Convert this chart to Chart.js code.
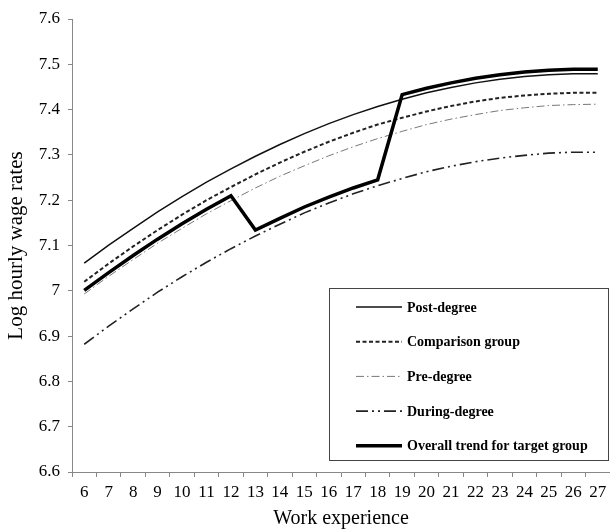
<!DOCTYPE html>
<html>
<head>
<meta charset="utf-8">
<script src="https://cdn.jsdelivr.net/npm/chart.js"></script>
<style>
  html, body { margin: 0; padding: 0; background: #fff; }
  #wrap { width: 610px; height: 531px; }
</style>
</head>
<body>
<div id="wrap"><canvas id="chart" width="610" height="531"></canvas></div>
<script>
// Work experience (years)
const experience = [6, 7, 8, 9, 10, 11, 12, 13, 14, 15, 16, 17, 18, 19, 20, 21, 22, 23, 24, 25, 26, 27];

// Log hourly wage rates
const postDegree = [7.061, 7.101, 7.138, 7.174, 7.208, 7.240, 7.269, 7.297, 7.323, 7.347, 7.369,
                    7.389, 7.407, 7.423, 7.437, 7.449, 7.459, 7.467, 7.473, 7.477, 7.479, 7.479];
const comparisonGroup = [7.020, 7.060, 7.098, 7.134, 7.168, 7.200, 7.229, 7.257, 7.283, 7.307, 7.329,
                         7.349, 7.367, 7.382, 7.396, 7.408, 7.418, 7.426, 7.431, 7.435, 7.437, 7.437];
const preDegree = [6.993, 7.032, 7.069, 7.105, 7.138, 7.170, 7.199, 7.227, 7.253, 7.276, 7.298,
                   7.318, 7.336, 7.352, 7.367, 7.379, 7.389, 7.398, 7.404, 7.409, 7.411, 7.412];
const duringDegree = [6.882, 6.922, 6.960, 6.997, 7.031, 7.063, 7.093, 7.121, 7.147, 7.172, 7.194,
                      7.214, 7.232, 7.248, 7.263, 7.275, 7.285, 7.293, 7.299, 7.304, 7.306, 7.306];
const overallTrend = [7.001, 7.040, 7.078, 7.114, 7.148, 7.180, 7.210, 7.134, 7.160, 7.185, 7.207,
                      7.227, 7.245, 7.433, 7.447, 7.459, 7.469, 7.477, 7.483, 7.487, 7.489, 7.489];

const yMin = 6.6, yMax = 7.6, yStep = 0.1;

const serif = '"Liberation Serif", "Times New Roman", serif';

// boxed legend in the lower right, drawn from the datasets
const boxLegend = {
    id: 'boxLegend',
    afterDraw(chart) {
        const ctx = chart.ctx;
        ctx.save();
        ctx.strokeStyle = '#444';
        ctx.lineWidth = 1;
        ctx.setLineDash([]);
        ctx.strokeRect(329.5, 288.5, 279, 172);
        chart.data.datasets.forEach((ds, i) => {
            const y = 307 + i * 34.7;
            ctx.beginPath();
            ctx.strokeStyle = ds.borderColor;
            ctx.lineWidth = ds.borderWidth;
            ctx.setLineDash(ds.borderDash || []);
            ctx.moveTo(356, y);
            ctx.lineTo(402, y);
            ctx.stroke();
            ctx.setLineDash([]);
            ctx.fillStyle = '#000';
            ctx.font = 'bold 14px ' + serif;
            ctx.textBaseline = 'middle';
            ctx.textAlign = 'left';
            ctx.fillText(ds.label, 407, y + 1);
        });
        ctx.restore();
    }
};

new Chart(document.getElementById('chart').getContext('2d'), {
    type: 'line',
    data: {
        labels: experience,
        datasets: [
            { label: 'Post-degree', data: postDegree, borderColor: '#111', borderWidth: 1.5, borderDash: [], order: 1 },
            { label: 'Comparison group', data: comparisonGroup, borderColor: '#222', borderWidth: 2, borderDash: [4, 2.5], order: 1 },
            { label: 'Pre-degree', data: preDegree, borderColor: '#777', borderWidth: 1, borderDash: [8, 3, 1.5, 3], order: 1 },
            { label: 'During-degree', data: duringDegree, borderColor: '#222', borderWidth: 1.6, borderDash: [12, 4, 2, 4, 2, 4], order: 1 },
            { label: 'Overall trend for target group', data: overallTrend, borderColor: '#000', borderWidth: 3.5, borderDash: [], order: 0 }
        ]
    },
    options: {
        responsive: false,
        animation: false,
        elements: {
            point: { radius: 0, hoverRadius: 0 },
            line: { tension: 0, fill: false, borderCapStyle: 'butt', borderJoinStyle: 'miter' }
        },
        layout: { padding: { top: 19, right: 0, left: 0, bottom: 0 } },
        plugins: {
            legend: { display: false },
            tooltip: { enabled: false }
        },
        scales: {
            x: {
                type: 'category',
                offset: true,
                afterFit: s => { s.height = 59; s.paddingRight = 0; s.paddingLeft = 0; },
                grid: { offset: true, drawOnChartArea: false, drawTicks: true, tickLength: 5, color: '#888' },
                border: { display: true, color: '#888', width: 1 },
                ticks: {
                    color: '#000', padding: 5, maxRotation: 0, autoSkip: false,
                    font: { family: serif, size: 17 }
                },
                title: {
                    display: true, text: 'Work experience', color: '#000',
                    font: { family: serif, size: 20 }, padding: { top: 0, bottom: 0 }
                }
            },
            y: {
                min: yMin,
                max: yMax,
                afterFit: s => { s.width = 72; },
                grid: { drawOnChartArea: false, drawTicks: true, tickLength: 4, color: '#888' },
                border: { display: true, color: '#888', width: 1 },
                ticks: {
                    stepSize: yStep, color: '#000', padding: 8,
                    font: { family: serif, size: 17 },
                    callback: v => String(Math.round(v * 10) / 10)
                },
                title: {
                    display: true, text: 'Log hourly wage rates', color: '#000',
                    font: { family: serif, size: 21 }, padding: { top: 4, bottom: 0 }
                }
            }
        }
    },
    plugins: [boxLegend]
});
</script>
</body>
</html>
